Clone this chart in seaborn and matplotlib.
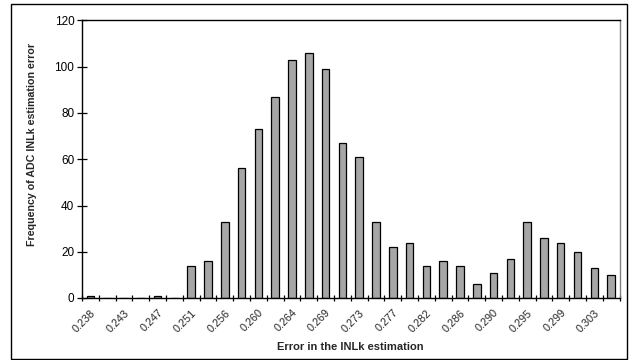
import numpy as np
import pandas as pd
import matplotlib
matplotlib.use("Agg")
import matplotlib.pyplot as plt
import seaborn as sns
from matplotlib.patches import Rectangle

# ---- data ----
tick_labels = ["0.238", "0.243", "0.247", "0.251", "0.256", "0.260", "0.264", "0.269",
               "0.273", "0.277", "0.282", "0.286", "0.290", "0.295", "0.299", "0.303"]
counts = [1, 0, 0, 0, 1, 0, 14, 16, 33, 56, 73, 87, 103, 106, 99, 67,
          61, 33, 22, 24, 14, 16, 14, 6, 11, 17, 33, 26, 24, 20, 13, 10]
bins = list(range(len(counts)))

df = pd.DataFrame({"bin": bins, "count": counts})

sns.set_theme(style="white")
plt.rcParams["font.family"] = ["Liberation Sans", "DejaVu Sans"]

fig = plt.figure(figsize=(6.34, 3.6), dpi=100)
ax = fig.add_axes([82 / 634, 1 - 298 / 360, (619.5 - 82) / 634, (298 - 20.5) / 360])

sns.barplot(data=df, x="bin", y="count", color="#a6a6a6", edgecolor="black",
            linewidth=0.9, width=0.45, saturation=1, ax=ax, order=bins)

ax.set_ylim(0, 120)
ax.set_xlim(-0.5, len(counts) - 0.5)
ax.set_yticks(range(0, 121, 20))
ax.tick_params(axis="y", left=True, direction="inout", length=7, width=0.9,
               labelsize=8.5, colors="black", pad=2)

ax.set_xticks(range(0, len(counts), 2))
ax.set_xticklabels(tick_labels, rotation=45, ha="right", rotation_mode="anchor", fontsize=7.8)
ax.tick_params(axis="x", which="major", bottom=True, length=0, pad=7)
ax.set_xticks(np.arange(-0.5, len(counts), 1), minor=True)
ax.tick_params(axis="x", which="minor", bottom=True, direction="inout", length=5,
               width=0.9, color="black")

for s in ["left", "bottom", "top"]:
    ax.spines[s].set_color("black")
    ax.spines[s].set_linewidth(1.0)
ax.spines["right"].set_color("#808080")
ax.spines["right"].set_linewidth(1.0)

ax.set_xlabel("Error in the INLk estimation", fontsize=8, fontweight="bold")
ax.set_ylabel("Frequency of ADC INLk estimation error", fontsize=7.7, fontweight="bold")
ax.xaxis.set_label_coords(0.5, -0.16)
ax.yaxis.set_label_coords(-0.084, 0.555)

fig.patches.append(Rectangle((11 / 634, 1 / 360), (627 - 11) / 634, (356 - 1) / 360,
                             transform=fig.transFigure, fill=False, edgecolor="black", linewidth=1.0))

fig.savefig("out.png", dpi=100)
